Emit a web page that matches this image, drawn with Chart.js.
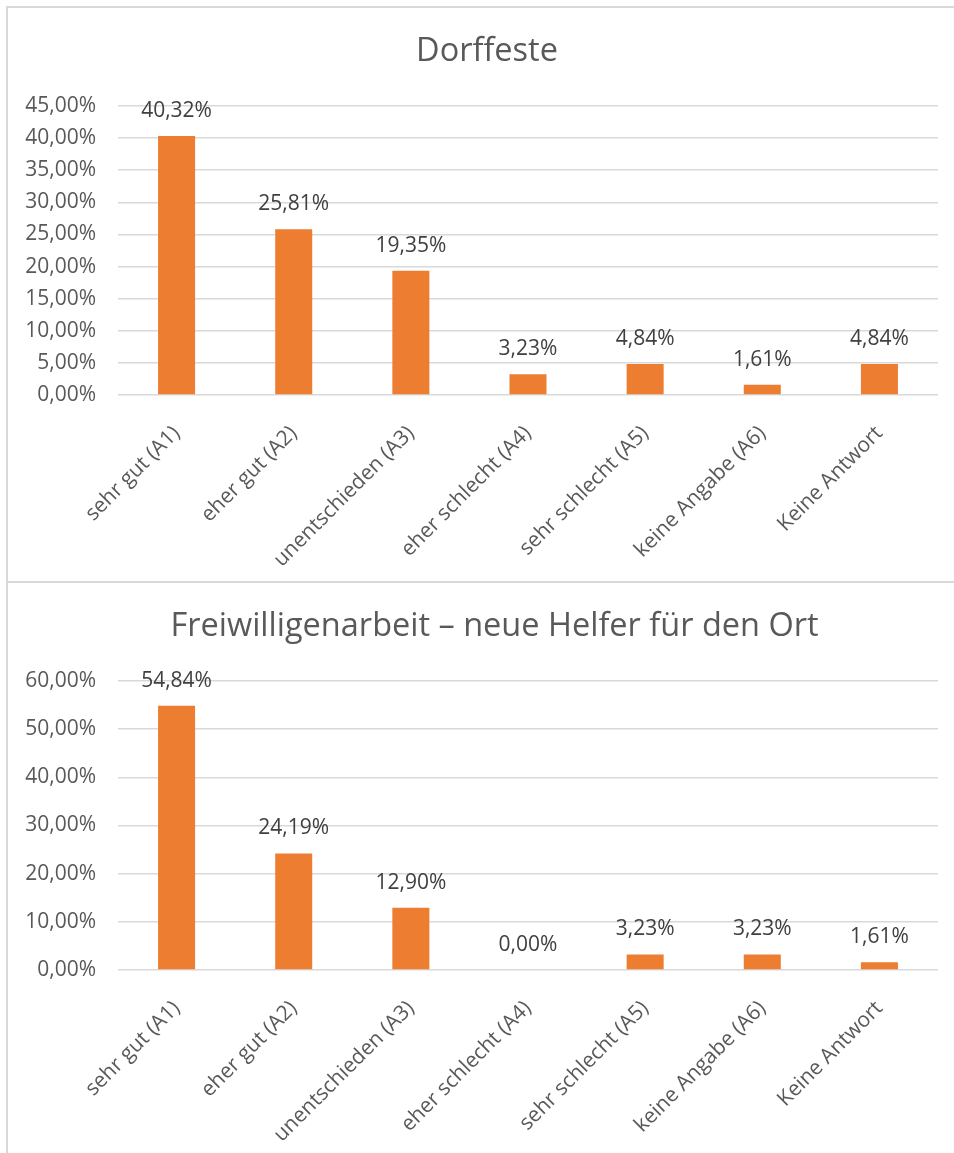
<!DOCTYPE html>
<html>
<head>
<meta charset="utf-8">
<script src="https://cdn.jsdelivr.net/npm/chart.js@4.4.1/dist/chart.umd.min.js"></script>
<style>
  html, body { margin: 0; padding: 0; background: #fff; overflow: hidden; width: 954px; height: 1153px; }
  .box { position: absolute; left: 6px; width: 958px; height: 573px; border: 2px solid #d9d9d9; background: #fff; }
  #box1 { top: 6px; }
  #box2 { top: 581px; width: 973px; }
  .box canvas { display: block; }
</style>
</head>
<body>
<div class="box" id="box1"><canvas id="chart1" width="958" height="573"></canvas></div>
<div class="box" id="box2"><canvas id="chart2" width="973" height="573"></canvas></div>
<script>
// answer categories (same for both questions)
const categories = [
  'sehr gut (A1)', 'eher gut (A2)', 'unentschieden (A3)', 'eher schlecht (A4)',
  'sehr schlecht (A5)', 'keine Angabe (A6)', 'Keine Antwort'
];

// percentages
const dorffesteValues = [40.32, 25.81, 19.35, 3.23, 4.84, 1.61, 4.84];
const freiwilligeValues = [54.84, 24.19, 12.90, 0.00, 3.23, 3.23, 1.61];

// y axis min / max / step
const dorffesteAxis = [0, 45, 5];
const freiwilligeAxis = [0, 60, 10];

const titles = ['Dorffeste', 'Freiwilligenarbeit \u2013 neue Helfer f\u00fcr den Ort'];

const FONT = '"Open Sans", "Noto Sans", sans-serif';

function pct(v) {
  return v.toFixed(2).replace('.', ',') + '%';
}

const barLabels = {
  id: 'barLabels',
  afterDatasetsDraw(chart) {
    const ctx = chart.ctx;
    const values = chart.data.datasets[0].data;
    ctx.save();
    ctx.font = '21px ' + FONT;
    ctx.fillStyle = '#404040';
    ctx.textAlign = 'center';
    ctx.textBaseline = 'middle';
    chart.getDatasetMeta(0).data.forEach((bar, i) => {
      ctx.fillText(pct(values[i]), bar.x, bar.y - 25);
    });
    ctx.restore();
  }
};

function makeChart(id, title, values, axis) {
  const canvas = document.getElementById(id);
  // empty space right of the plot, so the title stays centred on the whole box
  const rightGap = canvas.width - 930;
  return new Chart(canvas, {
    type: 'bar',
    data: {
      labels: categories,
      datasets: [{
        data: values,
        backgroundColor: '#ED7D31',
        borderWidth: 0,
        categoryPercentage: 1,
        barPercentage: 0.316
      }]
    },
    options: {
      responsive: false,
      animation: false,
      layout: { padding: 0 },
      plugins: {
        legend: { display: false },
        tooltip: { enabled: false },
        title: {
          display: true,
          text: title,
          color: '#595959',
          font: { family: FONT, size: 32.5, weight: 'normal' },
          padding: { top: 24, bottom: 35 }
        }
      },
      scales: {
        x: {
          grid: { display: false },
          border: { display: false },
          ticks: {
            color: '#595959',
            font: { family: FONT, size: 21 },
            minRotation: 45,
            maxRotation: 45,
            autoSkip: false,
            padding: 18
          },
          afterFit(scale) { scale.height = 186; }
        },
        y: {
          min: axis[0],
          max: axis[1],
          border: { display: false },
          grid: { color: '#d9d9d9', lineWidth: 1.5, drawTicks: false },
          ticks: {
            stepSize: axis[2],
            color: '#595959',
            font: { family: FONT, size: 21 },
            padding: 22,
            callback: v => pct(v)
          },
          afterFit(scale) { scale.width = 110; }
        },
        gap: {
          type: 'linear',
          position: 'right',
          grid: { display: false },
          border: { display: false },
          ticks: { display: false },
          afterFit(scale) { scale.width = rightGap; }
        }
      }
    },
    plugins: [barLabels]
  });
}

makeChart('chart1', titles[0], dorffesteValues, dorffesteAxis);
makeChart('chart2', titles[1], freiwilligeValues, freiwilligeAxis);
</script>
</body>
</html>
